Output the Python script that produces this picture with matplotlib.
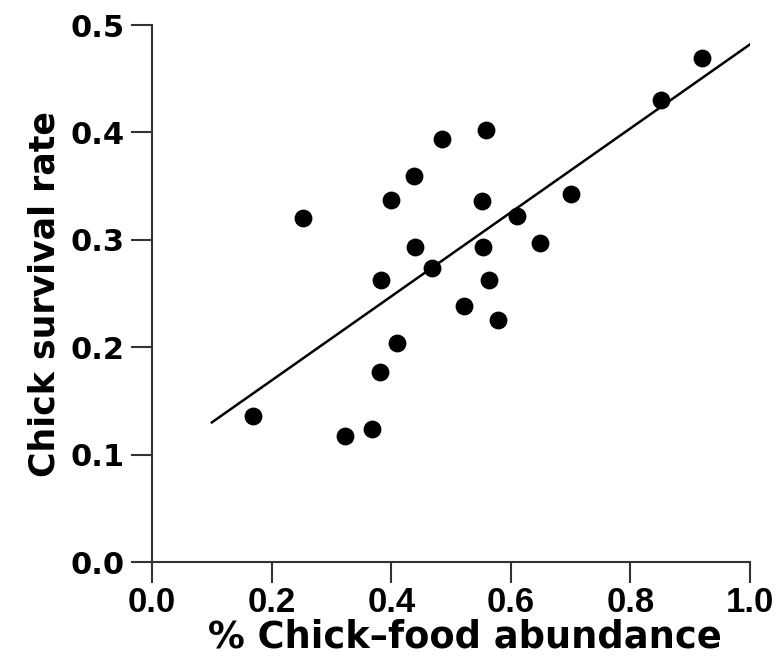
import numpy as np
import matplotlib
matplotlib.use('Agg')
import matplotlib.pyplot as plt

# Field data
food_abundance = [0.168, 0.253, 0.322, 0.368, 0.383, 0.382, 0.400, 0.410,
                  0.438, 0.440, 0.468, 0.485, 0.522, 0.552, 0.553, 0.558,
                  0.563, 0.578, 0.610, 0.648, 0.700, 0.852, 0.920]
survival_rate = [0.136, 0.320, 0.117, 0.124, 0.263, 0.177, 0.337, 0.204,
                 0.359, 0.293, 0.274, 0.394, 0.238, 0.336, 0.293, 0.402,
                 0.263, 0.225, 0.322, 0.297, 0.343, 0.430, 0.469]

# Regression line (as drawn in the figure)
fit_slope = 0.391
fit_intercept = 0.091
fit_range = [0.10, 1.0]

x_ticks = [0.0, 0.2, 0.4, 0.6, 0.8, 1.0]
y_ticks = [0.0, 0.1, 0.2, 0.3, 0.4, 0.5]

fig = plt.figure(figsize=(7.8, 6.59), dpi=100)
ax = fig.add_axes([0.195, 0.147, 0.7665, 0.815])

ax.scatter(food_abundance, survival_rate, s=140, color='black', zorder=3)
xf = np.array(fit_range)
ax.plot(xf, fit_intercept + fit_slope * xf, color='black', lw=1.8)

ax.set_xlim(0, 1.0)
ax.set_ylim(0, 0.5)
ax.set_xticks(x_ticks)
ax.set_yticks(y_ticks)
ax.set_xticklabels([f'{v:.1f}' for v in x_ticks],
                   fontfamily='Liberation Sans', fontweight='bold', fontsize=25)
ax.set_yticklabels([f'{v:.1f}' for v in y_ticks],
                   fontfamily='DejaVu Sans', fontweight='heavy', fontsize=22)

for side in ['top', 'right']:
    ax.spines[side].set_visible(False)
for side in ['left', 'bottom']:
    ax.spines[side].set_linewidth(1.5)
    ax.spines[side].set_color('#333333')
ax.tick_params(axis='both', direction='out', length=15, width=1.5, color='#333333')
ax.tick_params(axis='y', pad=5)
ax.tick_params(axis='x', pad=2)

ax.set_xlabel('% Chick\u2013food abundance', fontfamily='DejaVu Sans',
              fontweight='bold', fontsize=26.5)
ax.xaxis.set_label_coords(0.523, -0.105)
ax.set_ylabel('Chick survival rate', fontfamily='DejaVu Sans',
              fontweight='bold', fontsize=25, labelpad=6)

fig.savefig('out.png', dpi=100)
